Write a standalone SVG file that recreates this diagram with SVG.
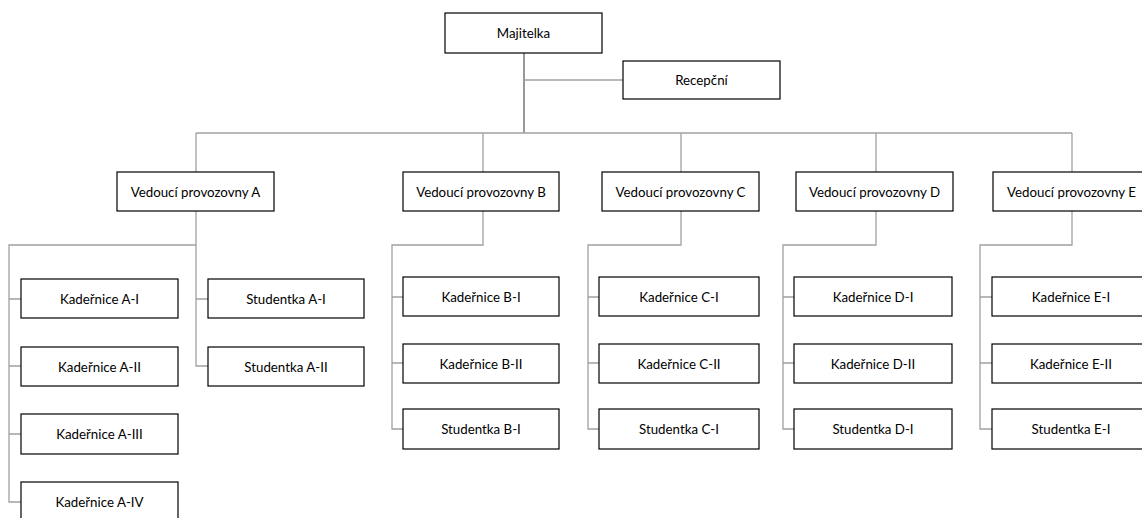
<svg xmlns="http://www.w3.org/2000/svg" width="1142" height="518" viewBox="0 0 1142 518">
  <style>
    .box { fill: #ffffff; stroke: #000000; stroke-width: 1.2; }
    .lbl { font-family: Lato, "Liberation Sans", sans-serif; font-size: 13.3px; fill: #000000; text-anchor: middle; dominant-baseline: central; }
    .ln { fill: none; stroke: #a0a0a0; stroke-width: 1.3; }
    .trunk { fill: none; stroke: #808080; stroke-width: 1.6; }
  </style>
  <rect width="1142" height="518" fill="#ffffff"/>

  <!-- connectors -->
  <g id="connectors">
    <path class="trunk" d="M524 53 V133"/>
    <path class="ln" d="M524 80 H623"/>
    <path class="ln" d="M196 133 H1072"/>
    <path class="ln" d="M196 133 V172 M483 133 V172 M681 133 V172 M876 133 V172 M1072 133 V172"/>
    <!-- branch A -->
    <path class="ln" d="M196 211 V366 H208 M196 299 H208 M196 245 H9 V502 H21 M9 299 H21 M9 366 H21 M9 434 H21"/>
    <!-- branch B -->
    <path class="ln" d="M483 211 V245 H392 V429 H403 M392 297 H403 M392 363 H403"/>
    <!-- branch C -->
    <path class="ln" d="M681 211 V245 H588 V429 H599 M588 297 H599 M588 363 H599"/>
    <!-- branch D -->
    <path class="ln" d="M876 211 V245 H783 V429 H794 M783 297 H794 M783 363 H794"/>
    <!-- branch E -->
    <path class="ln" d="M1072 211 V245 H980 V429 H992 M980 297 H992 M980 363 H992"/>
  </g>

  <g id="majitelka"><rect class="box" x="445" y="13" width="157" height="40"/><text class="lbl" x="523.5" y="33">Majitelka</text></g>
  <g id="recepcni"><rect class="box" x="623" y="61" width="157" height="38"/><text class="lbl" x="701.5" y="80">Recepční</text></g>

  <g id="vedouci-a"><rect class="box" x="117" y="172" width="157" height="39"/><text class="lbl" x="195.5" y="191.5">Vedoucí provozovny A</text></g>
  <g id="vedouci-b"><rect class="box" x="403" y="172" width="156" height="39"/><text class="lbl" x="481" y="191.5">Vedoucí provozovny B</text></g>
  <g id="vedouci-c"><rect class="box" x="602" y="172" width="157" height="39"/><text class="lbl" x="680.5" y="191.5">Vedoucí provozovny C</text></g>
  <g id="vedouci-d"><rect class="box" x="796" y="172" width="157" height="39"/><text class="lbl" x="874.5" y="191.5">Vedoucí provozovny D</text></g>
  <g id="vedouci-e"><rect class="box" x="993" y="172" width="157" height="39"/><text class="lbl" x="1071.5" y="191.5">Vedoucí provozovny E</text></g>

  <g id="kadernice-a1"><rect class="box" x="21" y="279" width="157" height="39"/><text class="lbl" x="99.5" y="298.5">Kadeřnice A-I</text></g>
  <g id="kadernice-a2"><rect class="box" x="21" y="347" width="157" height="39"/><text class="lbl" x="99.5" y="366.5">Kadeřnice A-II</text></g>
  <g id="kadernice-a3"><rect class="box" x="21" y="414" width="157" height="40"/><text class="lbl" x="99.5" y="434">Kadeřnice A-III</text></g>
  <g id="kadernice-a4"><rect class="box" x="21" y="482" width="157" height="40"/><text class="lbl" x="99.5" y="502">Kadeřnice A-IV</text></g>
  <g id="studentka-a1"><rect class="box" x="208" y="279" width="156" height="39"/><text class="lbl" x="286" y="298.5">Studentka A-I</text></g>
  <g id="studentka-a2"><rect class="box" x="208" y="347" width="156" height="39"/><text class="lbl" x="286" y="366.5">Studentka A-II</text></g>

  <g id="kadernice-b1"><rect class="box" x="403" y="277" width="156" height="39"/><text class="lbl" x="481" y="296.5">Kadeřnice B-I</text></g>
  <g id="kadernice-b2"><rect class="box" x="403" y="344" width="156" height="39"/><text class="lbl" x="481" y="363.5">Kadeřnice B-II</text></g>
  <g id="studentka-b1"><rect class="box" x="403" y="409" width="156" height="40"/><text class="lbl" x="481" y="429">Studentka B-I</text></g>

  <g id="kadernice-c1"><rect class="box" x="599" y="277" width="160" height="39"/><text class="lbl" x="679" y="296.5">Kadeřnice C-I</text></g>
  <g id="kadernice-c2"><rect class="box" x="599" y="344" width="160" height="39"/><text class="lbl" x="679" y="363.5">Kadeřnice C-II</text></g>
  <g id="studentka-c1"><rect class="box" x="599" y="409" width="160" height="40"/><text class="lbl" x="679" y="429">Studentka C-I</text></g>

  <g id="kadernice-d1"><rect class="box" x="794" y="277" width="158" height="39"/><text class="lbl" x="873" y="296.5">Kadeřnice D-I</text></g>
  <g id="kadernice-d2"><rect class="box" x="794" y="344" width="158" height="39"/><text class="lbl" x="873" y="363.5">Kadeřnice D-II</text></g>
  <g id="studentka-d1"><rect class="box" x="794" y="409" width="158" height="40"/><text class="lbl" x="873" y="429">Studentka D-I</text></g>

  <g id="kadernice-e1"><rect class="box" x="992" y="277" width="158" height="39"/><text class="lbl" x="1071" y="296.5">Kadeřnice E-I</text></g>
  <g id="kadernice-e2"><rect class="box" x="992" y="344" width="158" height="39"/><text class="lbl" x="1071" y="363.5">Kadeřnice E-II</text></g>
  <g id="studentka-e1"><rect class="box" x="992" y="409" width="158" height="40"/><text class="lbl" x="1071" y="429">Studentka E-I</text></g>
</svg>
